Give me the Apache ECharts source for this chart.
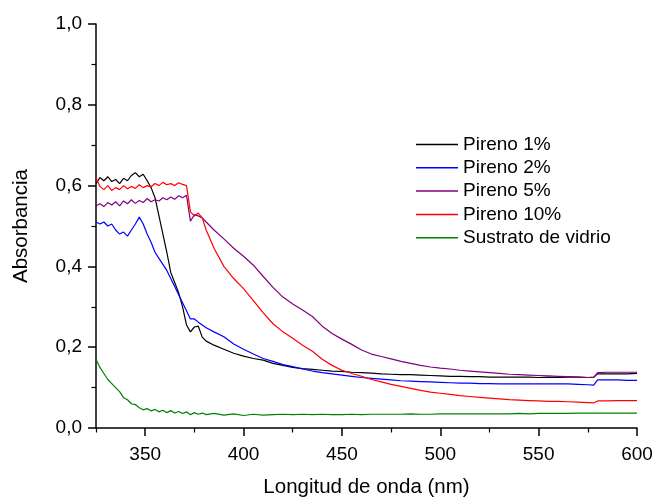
<!DOCTYPE html>
<html>
<head>
<meta charset="utf-8">
<script src="https://cdn.jsdelivr.net/npm/echarts@6/dist/echarts.min.js"></script>
<style>
  html, body { margin: 0; padding: 0; background: #fff; }
  #chart { width: 657px; height: 497px; }
</style>
</head>
<body>
<div id="chart"></div>
<script>
// longitudes de onda (nm)
const wavelengths = [
  325, 327, 329, 331, 333, 335, 337, 339, 341, 343, 345, 347, 349, 351, 353,
  355, 357, 359, 361, 363, 365, 367, 369, 371, 373, 375, 377, 379, 381,
  385, 390, 395, 400, 405, 410, 415, 420, 425, 430, 435, 440, 445, 450, 455,
  460, 465, 470, 475, 480, 485, 490, 495, 500, 505, 510, 515, 520, 525, 530,
  535, 540, 545, 550, 555, 560, 565, 570, 575, 578, 580, 585, 590, 595, 600
]

const pireno1 = [
  0.605, 0.620, 0.612, 0.622, 0.610, 0.615, 0.605, 0.618, 0.612, 0.625, 0.632, 0.622, 0.628, 0.612, 0.595,
  0.570, 0.525, 0.480, 0.435, 0.385, 0.360, 0.335, 0.300, 0.255, 0.238, 0.250, 0.252, 0.225, 0.215,
  0.205, 0.195, 0.185, 0.178, 0.172, 0.168, 0.160, 0.155, 0.150, 0.147, 0.145, 0.143, 0.141, 0.140, 0.138,
  0.137, 0.136, 0.134, 0.133, 0.132, 0.132, 0.131, 0.130, 0.129, 0.128, 0.128, 0.127, 0.127, 0.126, 0.126,
  0.126, 0.126, 0.126, 0.125, 0.126, 0.125, 0.126, 0.126, 0.125, 0.126, 0.134, 0.134, 0.134, 0.134, 0.135
]

const pireno2 = [
  0.510, 0.505, 0.510, 0.500, 0.505, 0.490, 0.480, 0.485, 0.475, 0.490, 0.505, 0.522, 0.505, 0.480, 0.460,
  0.435, 0.420, 0.405, 0.390, 0.370, 0.350, 0.330, 0.310, 0.290, 0.270, 0.270, 0.262, 0.255, 0.248,
  0.238, 0.226, 0.208, 0.195, 0.183, 0.172, 0.165, 0.157, 0.152, 0.146, 0.141, 0.137, 0.134, 0.131, 0.128,
  0.125, 0.123, 0.121, 0.119, 0.117, 0.116, 0.115, 0.114, 0.113, 0.112, 0.111, 0.111, 0.110, 0.110, 0.109,
  0.109, 0.109, 0.109, 0.109, 0.109, 0.109, 0.109, 0.108, 0.107, 0.106, 0.119, 0.119, 0.119, 0.118, 0.118
]

const pireno5 = [
  0.550, 0.555, 0.548, 0.558, 0.552, 0.560, 0.550, 0.562, 0.555, 0.565, 0.556, 0.563, 0.558, 0.568, 0.560,
  0.565, 0.562, 0.570, 0.565, 0.572, 0.566, 0.575, 0.570, 0.576, 0.512, 0.528, 0.525, 0.520, 0.510,
  0.490, 0.468, 0.445, 0.425, 0.403, 0.375, 0.348, 0.324, 0.307, 0.292, 0.276, 0.252, 0.234, 0.220, 0.207,
  0.193, 0.183, 0.177, 0.171, 0.165, 0.160, 0.155, 0.151, 0.148, 0.146, 0.143, 0.141, 0.139, 0.137, 0.135,
  0.133, 0.132, 0.131, 0.130, 0.129, 0.128, 0.127, 0.126, 0.125, 0.125, 0.137, 0.138, 0.138, 0.138, 0.138
]

const pireno10 = [
  0.620, 0.598, 0.590, 0.600, 0.588, 0.595, 0.590, 0.600, 0.592, 0.598, 0.593, 0.602, 0.595, 0.600, 0.597,
  0.605, 0.600, 0.608, 0.602, 0.605, 0.600, 0.607, 0.603, 0.600, 0.535, 0.525, 0.532, 0.520, 0.490,
  0.445, 0.400, 0.370, 0.345, 0.315, 0.285, 0.258, 0.238, 0.222, 0.205, 0.190, 0.170, 0.155, 0.143, 0.135,
  0.128, 0.120, 0.114, 0.108, 0.103, 0.098, 0.093, 0.089, 0.086, 0.083, 0.080, 0.078, 0.076, 0.074, 0.072,
  0.070, 0.069, 0.068, 0.067, 0.066, 0.066, 0.065, 0.064, 0.063, 0.062, 0.067, 0.067, 0.068, 0.068, 0.068
]

const sustrato = [
  0.170, 0.150, 0.135, 0.120, 0.110, 0.100, 0.090, 0.075, 0.070, 0.060, 0.058, 0.050, 0.045, 0.048, 0.042,
  0.046, 0.040, 0.044, 0.038, 0.043, 0.037, 0.041, 0.036, 0.040, 0.033, 0.038, 0.034, 0.037, 0.033,
  0.036, 0.032, 0.035, 0.031, 0.034, 0.032, 0.033, 0.034, 0.033, 0.034, 0.033, 0.034, 0.033, 0.033, 0.034,
  0.033, 0.034, 0.034, 0.034, 0.034, 0.035, 0.034, 0.034, 0.035, 0.035, 0.035, 0.035, 0.035, 0.035, 0.035,
  0.035, 0.036, 0.035, 0.036, 0.036, 0.036, 0.036, 0.037, 0.037, 0.037, 0.037, 0.037, 0.037, 0.037, 0.037
]

const seriesNames = ['Pireno 1%', 'Pireno 2%', 'Pireno 5%', 'Pireno 10%', 'Sustrato de vidrio']
const seriesColors = ['#000000', '#0000ff', '#800080', '#ff0000', '#008000']
const seriesValues = [pireno1, pireno2, pireno5, pireno10, sustrato]

const xMajorTicks = [350, 400, 450, 500, 550, 600]
const xMinorTicks = [325, 375, 425, 475, 525, 575]

const FONT = 'Liberation Sans, Arial, sans-serif'

const chart = echarts.init(document.getElementById('chart'), null, { renderer: 'canvas' })

const option = {
  animation: false,
  backgroundColor: '#ffffff',
  grid: { left: 96, right: 20, top: 24, bottom: 69, containLabel: false, outerBoundsMode: 'none' },
  legend: {
    orient: 'vertical',
    left: 411,
    top: 130,
    icon: 'rect',
    itemWidth: 42,
    itemHeight: 1.5,
    itemGap: 4.3,
    textStyle: { fontFamily: FONT, fontSize: 19, lineHeight: 19, color: '#000' },
    data: seriesNames
  },
  xAxis: [
    {
      type: 'value',
      min: 325,
      max: 600,
      name: 'Longitud de onda (nm)',
      nameLocation: 'middle',
      nameGap: 49,
      nameTextStyle: { fontFamily: FONT, fontSize: 20.5, color: '#000' },
      axisLine: { show: true, lineStyle: { color: '#000', width: 1.5 } },
      axisTick: { show: true, length: 8, customValues: xMajorTicks, lineStyle: { color: '#000', width: 1.5 } },
      axisLabel: { customValues: xMajorTicks, fontFamily: FONT, fontSize: 19, color: '#000', margin: 17 },
      splitLine: { show: false }
    },
    {
      type: 'value',
      min: 325,
      max: 600,
      position: 'bottom',
      axisLine: { show: false },
      axisTick: { show: true, length: 4.5, customValues: xMinorTicks, lineStyle: { color: '#000', width: 1.2 } },
      axisLabel: { show: false },
      splitLine: { show: false }
    }
  ],
  yAxis: {
    type: 'value',
    min: 0,
    max: 1,
    interval: 0.2,
    name: 'Absorbancia',
    nameLocation: 'middle',
    nameGap: 64,
    nameRotate: 90,
    nameTextStyle: { fontFamily: FONT, fontSize: 20.5, color: '#000' },
    axisLine: { show: true, lineStyle: { color: '#000', width: 1.5 } },
    axisTick: { show: true, length: 8, lineStyle: { color: '#000', width: 1.5 } },
    minorTick: { show: true, splitNumber: 2, length: 4.5, lineStyle: { color: '#000', width: 1.2 } },
    axisLabel: {
      fontFamily: FONT,
      fontSize: 19,
      color: '#000',
      margin: 14,
      formatter: (v) => v.toFixed(1).replace('.', ',')
    },
    splitLine: { show: false }
  },
  series: seriesNames.map((name, i) => ({
    name: name,
    type: 'line',
    xAxisIndex: 0,
    symbol: 'none',
    lineStyle: { color: seriesColors[i], width: 1.2 },
    itemStyle: { color: seriesColors[i] },
    data: wavelengths.map((w, j) => [w, seriesValues[i][j]])
  }))
}

chart.setOption(option)
</script>
</body>
</html>
